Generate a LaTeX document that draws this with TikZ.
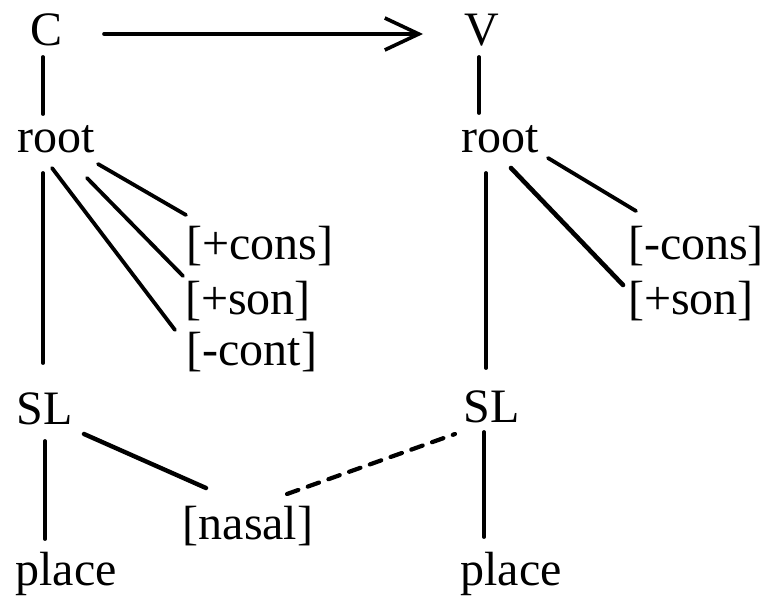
\documentclass[tikz,border=0pt]{standalone}
\usepackage{fontspec}
\setmainfont{Liberation Serif}
\usetikzlibrary{arrows.meta}
\begin{document}
\begin{tikzpicture}[x=1pt,y=-1pt,
  lbl/.style={inner sep=0pt,anchor=base,font=\fontsize{48}{56}\selectfont},
  branch/.style={line width=3.8pt,line cap=round},
  spread/.style={branch,line width=4.2pt,dash pattern=on 12pt off 10pt},
  becomes/.style={branch,line width=3.6pt,-{Straight Barb[length=34pt,width=32pt,line width=3.6pt]}}]
\useasboundingbox (0,0) rectangle (765,597);

% consonant tree
\node[lbl] (C)     at (47,45)   {C};
\node[lbl] (rootL) at (56,152)  {root};
\node[lbl] (consL) at (260,259) {[+cons]};
\node[lbl] (sonL)  at (248,314) {[+son]};
\node[lbl] (contL) at (252,365) {[-cont]};
\node[lbl] (SLL)   at (45,424)  {SL};
\node[lbl] (placeL) at (66,585) {place};

% vowel tree
\node[lbl] (V)     at (482,45)  {V};
\node[lbl] (rootR) at (500,152) {root};
\node[lbl] (consR) at (696,259) {[-cons]};
\node[lbl] (sonR)  at (691,314) {[+son]};
\node[lbl] (SLR)   at (492,422) {SL};
\node[lbl] (placeR) at (511,585) {place};

% shared nasal feature
\node[lbl] (nasal) at (248,539) {[nasal]};

% C becomes V
\draw[becomes] ([shift={(57,-11)}]C.base) -- ([shift={(-59,-11)}]V.base);

% left branches
\draw[branch] ([shift={(-4,12)}]C.base) -- ([shift={(-13,-38)}]rootL.base);
\draw[branch] ([shift={(-13,21)}]rootL.base) -- ([shift={(-2,-61)}]SLL.base);
\draw[branch] ([shift={(-4,16)}]rootL.base) -- ([shift={(-77,-35)}]contL.base);
\draw[branch] ([shift={(31,26)}]rootL.base) -- ([shift={(-65,-38)}]sonL.base);
\draw[branch] ([shift={(42,12)}]rootL.base) -- ([shift={(-74,-44)}]consL.base);
\draw[branch] ([shift={(0,17)}]SLL.base) -- ([shift={(-21,-46)}]placeL.base);
\draw[branch,line width=4.4pt] ([shift={(39,10)}]SLL.base) -- ([shift={(-42,-51)}]nasal.base);

% right branches
\draw[branch] ([shift={(-3,12)}]V.base) -- ([shift={(-21,-39)}]rootR.base);
\draw[branch] ([shift={(-14,21)}]rootR.base) -- ([shift={(-6,-54)}]SLR.base);
\draw[branch,line width=4.6pt] ([shift={(11,16)}]rootR.base) -- ([shift={(-68,-29)}]sonR.base);
\draw[branch] ([shift={(48,6)}]rootR.base) -- ([shift={(-60,-48)}]consR.base);
\draw[branch] ([shift={(-8,10)}]SLR.base) -- ([shift={(-27,-48)}]placeR.base);

% nasal spreads to the vowel
\draw[spread] ([shift={(39,-45)}]nasal.base) -- ([shift={(-37,12)}]SLR.base);
\end{tikzpicture}
\end{document}
